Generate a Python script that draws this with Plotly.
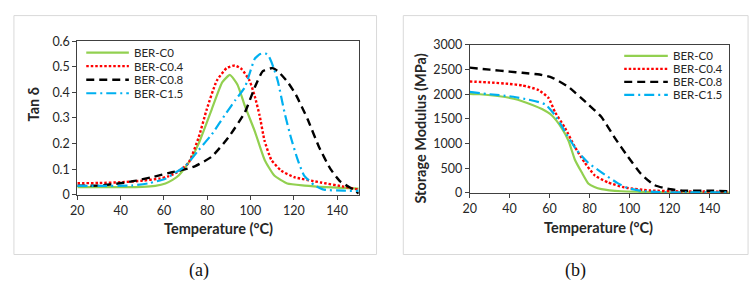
import plotly.graph_objects as go

names = ["BER-C0", "BER-C0.4", "BER-C0.8", "BER-C1.5"]
colors = ["#92D050", "#FF0000", "#000000", "#00B0F0"]
dashes = ["solid", "2.5px,2px", "8px,5px", "10px,4px,2px,4px"]
widths = [2.2, 2.4, 2.4, 2.2]

# Panel (a): Tan delta vs temperature
tan_T0 = [20, 30, 40, 50, 56, 60.7, 64, 66.8, 71.4, 76, 82.1, 87, 90.5, 94, 97.4, 102, 106.5, 111, 117, 125, 135, 150]
tan_C0 = [0.03, 0.03, 0.03, 0.031, 0.035, 0.044, 0.058, 0.075, 0.125, 0.199, 0.334, 0.44, 0.468, 0.43, 0.347, 0.248, 0.137, 0.075, 0.044, 0.036, 0.03, 0.024]
tan_T1 = [20, 30, 40, 50, 57.7, 62, 66.1, 71.4, 76, 79.8, 84.4, 89, 92.8, 96, 99.6, 102, 104.2, 106.5, 109.6, 114.2, 120.2, 132.5, 143, 150]
tan_C04 = [0.045, 0.046, 0.049, 0.055, 0.063, 0.072, 0.088, 0.125, 0.223, 0.334, 0.445, 0.495, 0.505, 0.49, 0.445, 0.384, 0.31, 0.211, 0.137, 0.094, 0.069, 0.048, 0.032, 0.02]
tan_T2 = [20, 30, 40, 47, 54.6, 63.8, 70, 74.5, 82.1, 89.7, 97.4, 102, 105.7, 110.3, 113, 117.2, 121, 126.3, 131.7, 137, 141.6, 147.7, 150]
tan_C08 = [0.035, 0.036, 0.045, 0.055, 0.069, 0.088, 0.1, 0.112, 0.149, 0.223, 0.322, 0.42, 0.483, 0.495, 0.48, 0.44, 0.39, 0.297, 0.186, 0.1, 0.051, 0.02, 0.005]
tan_T3 = [20, 30, 45, 53, 60.7, 65, 69.9, 76, 82.1, 89, 93, 97.4, 100.4, 102, 104.5, 106.8, 108.5, 110.5, 112.6, 115.7, 118.7, 121.8, 124.8, 129.4, 134, 143, 150]
tan_C15 = [0.035, 0.035, 0.036, 0.045, 0.063, 0.085, 0.112, 0.174, 0.236, 0.322, 0.37, 0.42, 0.495, 0.532, 0.55, 0.553, 0.54, 0.5, 0.445, 0.322, 0.223, 0.137, 0.075, 0.038, 0.02, 0.016, 0.015]

# Panel (b): Storage modulus vs temperature
sm_T0 = [20, 25, 35, 42, 46.3, 56.2, 61.2, 66.1, 69.5, 72.7, 76.1, 79.4, 82.5, 86, 95.9, 105, 120, 135, 150]
sm_C0 = [2010, 2000, 1960, 1910, 1860, 1700, 1570, 1313, 1058, 673, 417, 192, 120, 77, 33, 22, 12, 8, 5]
sm_T1 = [20, 30, 40, 46.3, 54.6, 59.5, 62.8, 67.8, 72.7, 77.7, 82.7, 89.3, 97.6, 110, 125, 150]
sm_C04 = [2260, 2240, 2210, 2180, 2083, 1923, 1635, 1313, 929, 610, 352, 212, 109, 50, 30, 25]
sm_T2 = [20, 30, 40, 46.3, 55, 61.2, 69.5, 79.4, 86, 92.6, 99.2, 105.8, 112.4, 119.1, 127.3, 142, 150]
sm_C08 = [2540, 2500, 2460, 2436, 2400, 2340, 2148, 1795, 1538, 1121, 737, 385, 160, 83, 44, 44, 30]
sm_T3 = [20, 30, 40, 49.6, 57.9, 62.8, 68.6, 73.6, 79.4, 86, 94.3, 99.2, 106, 115, 130, 150]
sm_C15 = [2050, 2000, 1960, 1890, 1795, 1571, 1186, 865, 610, 417, 192, 96, 40, 15, 10, 10]

tan_x = [tan_T0, tan_T1, tan_T2, tan_T3]
tan_y = [tan_C0, tan_C04, tan_C08, tan_C15]
sm_x = [sm_T0, sm_T1, sm_T2, sm_T3]
sm_y = [sm_C0, sm_C04, sm_C08, sm_C15]

x_ticks = [20, 40, 60, 80, 100, 120, 140]
tan_ticks = [0, 0.1, 0.2, 0.3, 0.4, 0.5, 0.6]
tan_ticktext = ["0", "0.1", "0.2", "0.3", "0.4", "0.5", "0.6"]
sm_ticks = [0, 500, 1000, 1500, 2000, 2500, 3000]

W, H = 755, 289
def px(x): return x / W
def py(y): return 1 - y / H

FONT = "Lato, 'Open Sans', sans-serif"
TXT = "#262626"

fig = go.Figure()
for i in range(4):
    fig.add_trace(go.Scatter(x=tan_x[i], y=tan_y[i], mode="lines", name=names[i], showlegend=False,
                             line=dict(color=colors[i], dash=dashes[i], width=widths[i], shape="spline", smoothing=0.5),
                             xaxis="x", yaxis="y"))
for i in range(4):
    fig.add_trace(go.Scatter(x=sm_x[i], y=sm_y[i], mode="lines", name=names[i], showlegend=False,
                             line=dict(color=colors[i], dash=dashes[i], width=widths[i], shape="spline", smoothing=0.5),
                             xaxis="x2", yaxis="y2"))

axis_common = dict(showline=True, linecolor="#404040", linewidth=1, mirror=True,
                   ticks="outside", ticklen=4, tickcolor="#404040", showgrid=False, zeroline=False,
                   tickfont=dict(family=FONT, size=12.5, color=TXT))

fig.update_layout(
    width=W, height=H, margin=dict(l=0, r=0, t=0, b=0),
    paper_bgcolor="white", plot_bgcolor="white", showlegend=False,
    xaxis=dict(domain=[px(71), px(355)], range=[20, 150], tickvals=x_ticks, anchor="y", **axis_common),
    yaxis=dict(domain=[py(197), py(35)], range=[0, 0.6], tickvals=tan_ticks, ticktext=tan_ticktext, anchor="x", **axis_common),
    xaxis2=dict(domain=[px(467), px(729)], range=[20, 150], tickvals=x_ticks, anchor="y2", **axis_common),
    yaxis2=dict(domain=[py(195), py(39)], range=[0, 3000], tickvals=sm_ticks, anchor="x2", **axis_common),
)

# outer panel frames
for x0, x1 in [(7, 373), (400, 748)]:
    fig.add_shape(type="rect", xref="paper", yref="paper", x0=px(x0), x1=px(x1), y0=py(260), y1=py(8),
                  line=dict(color="#d9d9d9", width=1))

# legends (drawn in-panel, like the original spreadsheet-style legend boxes)
legend_specs = [
    dict(x0=80, x1=123, tx=127, rows=[47, 61.3, 75.6, 89.9]),
    dict(x0=623, x1=667, tx=671, rows=[50.5, 64.2, 77.9, 91.6]),
]
for spec in legend_specs:
    for i in range(4):
        yy = py(spec["rows"][i])
        fig.add_shape(type="line", xref="paper", yref="paper", x0=px(spec["x0"]), x1=px(spec["x1"]), y0=yy, y1=yy,
                      line=dict(color=colors[i], dash=dashes[i], width=widths[i]))
        fig.add_annotation(xref="paper", yref="paper", showarrow=False, text=names[i],
                           x=px(spec["tx"]), y=yy, xanchor="left", yanchor="middle", borderpad=0,
                           font=dict(family=FONT, size=11.5, color=TXT))

ann = [
    dict(text="<b>Temperature (°C)</b>", x=px(213), y=py(233), font=dict(family=FONT, size=14.5, color=TXT)),
    dict(text="<b>Temperature (°C)</b>", x=px(597), y=py(232), font=dict(family=FONT, size=14.5, color=TXT)),
    dict(text="<b>Tan δ</b>", x=px(27), y=py(102), textangle=-90, font=dict(family=FONT, size=14.5, color=TXT)),
    dict(text="<b>Storage Modulus (MPa)</b>", x=px(417), y=py(127), textangle=-90, font=dict(family=FONT, size=14.5, color=TXT)),
    dict(text="(a)", x=px(194), y=py(277), font=dict(family="Liberation Serif, serif", size=18, color="#111")),
    dict(text="(b)", x=px(574), y=py(277), font=dict(family="Liberation Serif, serif", size=18, color="#111")),
]
for a in ann:
    fig.add_annotation(xref="paper", yref="paper", showarrow=False, xanchor="center", yanchor="middle", **a)

fig.write_html("out.html")
